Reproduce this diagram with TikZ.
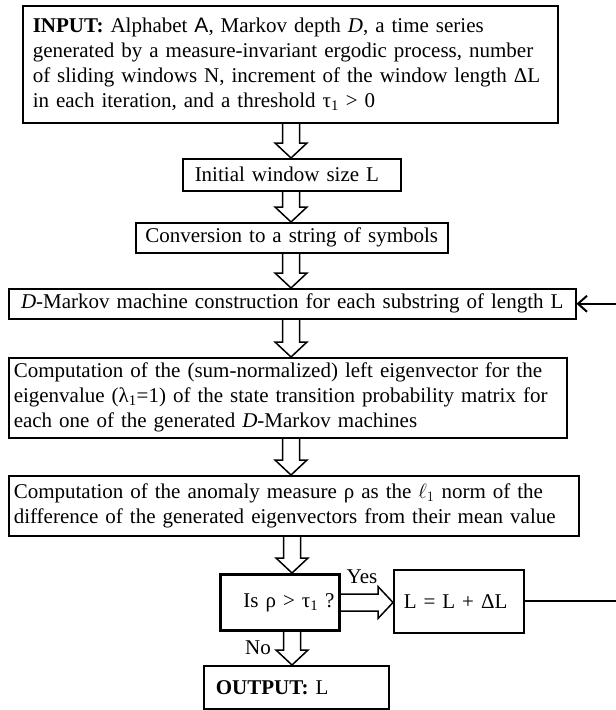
\documentclass[tikz,border=0pt]{standalone}
\usepackage{fontspec}
\setmainfont{Liberation Serif}
\setsansfont{Liberation Sans}
\usetikzlibrary{calc,arrows.meta}
\newcommand\fs{\fontsize{21}{25}\selectfont}
\newcommand\varr[2]{\draw[hol] let \p1=(#1), \p2=(#2) in
  (\x1-8.5pt,\y1) -- (\x1-8.5pt,\y2+15pt) -- (\x1-16pt,\y2+15pt) -- (\x1,\y2)
  -- (\x1+16pt,\y2+15pt) -- (\x1+8.5pt,\y2+15pt) -- (\x1+8.5pt,\y1);}
\newcommand\harr[2]{\draw[hol] let \p1=(#1), \p2=(#2) in
  (\x1,\y1-8.5pt) -- (\x2-15pt,\y1-8.5pt) -- (\x2-15pt,\y1-16pt) -- (\x2,\y1)
  -- (\x2-15pt,\y1+16pt) -- (\x2-15pt,\y1+8.5pt) -- (\x1,\y1+8.5pt);}
\tikzset{
  box/.style={draw, line width=1.5pt, anchor=north west, inner ysep=0pt, font=\fs},
  hol/.style={line width=1.5pt, line join=miter},
  fbline/.style={line width=2pt},
  lab/.style={font=\fs, inner sep=0pt}
}
\begin{document}
\begin{tikzpicture}[x=1pt,y=-1pt]
\useasboundingbox (0,0) rectangle (616,710);
\node[box, minimum width=535pt, minimum height=117pt, inner xsep=10pt, text width=515pt, align=left] (in) at (22,5)
 {\textbf{INPUT:} Alphabet {\sffamily A}, Markov depth \textit{D}, a time series\\
  generated by a measure-invariant ergodic process, number\\
  of sliding windows N, increment of the window length ΔL\\
  in each iteration, and a threshold τ\textsubscript{1} > 0};
\node[box, minimum width=218pt, minimum height=32pt, inner xsep=12pt, text width=194pt, align=left] (init) at (182,158)
 {Initial window size L};
\node[box, minimum width=312pt, minimum height=30pt, inner xsep=6pt, text width=300pt, align=center] (conv) at (135,222)
 {Conversion to a string of symbols};
\node[box, minimum width=567pt, minimum height=30pt, inner xsep=3pt, text width=561pt, align=center] (dmk) at (8,288)
 {\textit{D}-Markov machine construction for each substring of length L};
\node[box, minimum width=558pt, minimum height=80pt, inner xsep=5pt, text width=548pt, align=left] (eig) at (8,357)
 {Computation of the (sum-normalized) left eigenvector for the\\
  eigenvalue (λ\textsubscript{1}=1) of the state transition probability matrix for\\
  each one of the generated \textit{D}-Markov machines};
\node[box, minimum width=570pt, minimum height=60pt, inner xsep=5pt, text width=560pt, align=left] (anom) at (8,475)
 {Computation of the anomaly measure ρ as the $\ell_1$ norm of the\\
  difference of the generated eigenvectors from their mean value};
\node[box, line width=3pt, minimum width=119pt, minimum height=56pt, inner xsep=5pt, text width=109pt, align=right] (dec) at (219,573)
 {Is ρ > τ\textsubscript{1} ?};
\node[box, minimum width=130pt, minimum height=63pt, inner xsep=10pt, text width=110pt, align=left] (upd) at (393,569)
 {L = L + ΔL};
\node[box, minimum width=185pt, minimum height=43pt, inner xsep=12pt, text width=161pt, align=left] (out) at (203,665)
 {\textbf{OUTPUT:} L};
\node[lab] (yes) at (362,577) {Yes};
\node[lab] (no) at (258,648) {No};
\coordinate (ax) at (291,0);
\coordinate (bx) at (292,0);
\coordinate (fb) at (624,0);
\varr{ax |- in.south}{ax |- init.north}
\varr{ax |- init.south}{ax |- conv.north}
\varr{ax |- conv.south}{ax |- dmk.north}
\varr{ax |- dmk.south}{ax |- eig.north}
\varr{ax |- eig.south}{ax |- anom.north}
\varr{bx |- anom.south}{bx |- dec.north}
\varr{bx |- dec.south}{bx |- out.north}
\harr{dec.east}{upd.west}
\draw[fbline, -{Straight Barb[length=9pt,width=16pt]}] (upd.east) -- (fb |- upd.east) |- (dmk.east);
\end{tikzpicture}
\end{document}
